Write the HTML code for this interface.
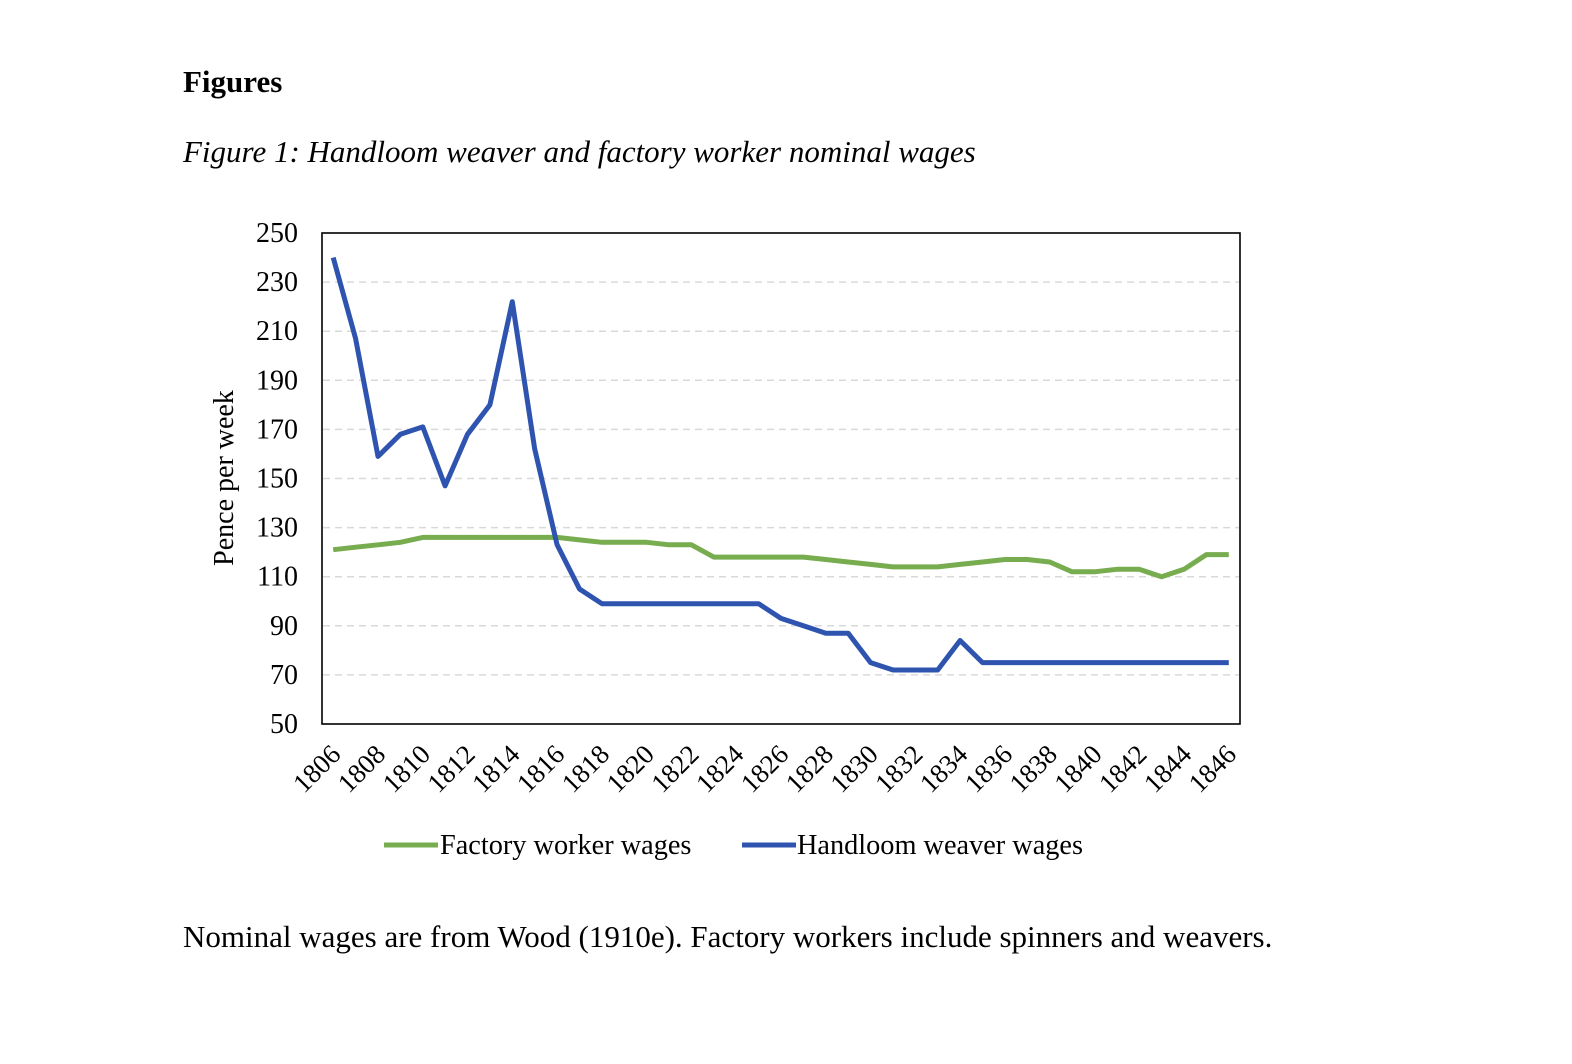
<!DOCTYPE html>
<html><head><meta charset="utf-8"><style>
body{margin:0;background:#fff;}
svg{display:block;font-family:"Liberation Serif",serif;}
</style></head><body>
<svg width="1572" height="1064" viewBox="0 0 1572 1064" xmlns="http://www.w3.org/2000/svg">
<rect width="1572" height="1064" fill="#fff"/>
<text x="183" y="92" font-size="31" font-weight="bold">Figures</text>
<text x="183" y="162" font-size="31" font-style="italic">Figure 1: Handloom weaver and factory worker nominal wages</text>
<text x="183" y="947" font-size="31">Nominal wages are from Wood (1910e). Factory workers include spinners and weavers.</text>
<g id="grid"></g>
<rect x="322" y="233" width="918" height="491" fill="none" stroke="#000" stroke-width="1.6"/>
<g id="ylab" font-size="28" text-anchor="end"></g>
<text transform="translate(233,478) rotate(-90)" font-size="28" text-anchor="middle">Pence per week</text>
<g id="xlab" font-size="27" text-anchor="end"></g>
<polyline id="g" fill="none" stroke="#77ac4f" stroke-width="5" stroke-linejoin="round"/>
<polyline id="b" fill="none" stroke="#2f54b0" stroke-width="5" stroke-linejoin="round"/>
<line x1="384" y1="845" x2="438" y2="845" stroke="#77ac4f" stroke-width="5"/>
<text x="440" y="854" font-size="28.3">Factory worker wages</text>
<line x1="742" y1="845" x2="796" y2="845" stroke="#2f54b0" stroke-width="5"/>
<text x="797" y="854" font-size="28.3">Handloom weaver wages</text>
</svg>
<script>
var NS="http://www.w3.org/2000/svg";
function Y(v){return 724-(v-50)*491/200;}
function X(i){return 333.2+i*22.39;}
var grid=document.getElementById('grid'),yl=document.getElementById('ylab'),xl=document.getElementById('xlab');
for(var v=50;v<=250;v+=20){
 if(v>50&&v<250){var l=document.createElementNS(NS,'line');l.setAttribute('x1',323);l.setAttribute('x2',1239);l.setAttribute('y1',Y(v));l.setAttribute('y2',Y(v));l.setAttribute('stroke','#d9d9d9');l.setAttribute('stroke-width','1.5');l.setAttribute('stroke-dasharray','7,5');grid.appendChild(l);}
 var t=document.createElementNS(NS,'text');t.setAttribute('x',298);t.setAttribute('y',Y(v)+9);t.textContent=v;yl.appendChild(t);
}
for(var i=0;i<=40;i+=2){
 var t=document.createElementNS(NS,'text');var x=X(i)+9,y=756;
 t.setAttribute('transform','translate('+x+','+y+') rotate(-45)');t.textContent=1806+i;xl.appendChild(t);
}
var b=[240,207,159,168,171,147,168,180,222,162,123,105,99,99,99,99,99,99,99,99,93,90,87,87,75,72,72,72,84,75,75,75,75,75,75,75,75,75,75,75,75];
var g=[121,122,123,124,126,126,126,126,126,126,126,125,124,124,124,123,123,118,118,118,118,118,117,116,115,114,114,114,115,116,117,117,116,112,112,113,113,110,113,119,119];
function pts(a){return a.map(function(v,i){return X(i).toFixed(1)+','+Y(v).toFixed(1);}).join(' ');}
document.getElementById('b').setAttribute('points',pts(b));
document.getElementById('g').setAttribute('points',pts(g));
</script>
</body></html>
